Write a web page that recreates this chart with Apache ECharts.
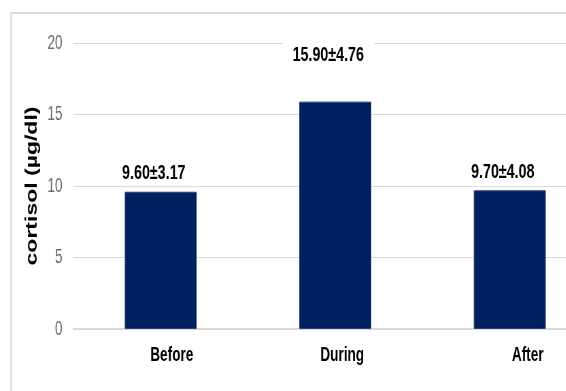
<!DOCTYPE html>
<html>
<head>
<meta charset="utf-8">
<script src="https://cdn.jsdelivr.net/npm/echarts@6/dist/echarts.min.js"></script>
<style>
  html, body { margin: 0; padding: 0; width: 566px; height: 391px; overflow: hidden; background: #fff; }
  /* chart is laid out wide, then condensed horizontally */
  #wrap { width: 900px; height: 391px; transform: scaleX(0.68); transform-origin: 0 0; }
</style>
</head>
<body>
<div id="wrap"></div>
<script>
// Cortisol level (mean ± SD) by phase
const phases = ['Before', 'During', 'After'];
const cortisolMean = [9.60, 15.90, 9.70];
const cortisolSD = [3.17, 4.76, 4.08];
const yTicks = { min: 0, max: 20, step: 5 };

const SX = 0.68;               // horizontal condensing factor of the wrapper
const px = v => v / SX;        // on-screen x distance -> layout units

const chart = echarts.init(document.getElementById('wrap'), null, { renderer: 'canvas' });

// extra horizontal shifts of category names / vertical lift of value labels (screen px)
const nameShift = [11, 7, 18];
const valueLabelLift = [0, 28, 0];

const categoryData = phases.map((p, i) => ({
  value: p,
  textStyle: { padding: [0, 0, 0, px(nameShift[i]) * 2] }
}));

const barData = cortisolMean.map((m, i) => ({
  value: m,
  label: { offset: [px(-7), -valueLabelLift[i]] }
}));

chart.setOption({
  backgroundColor: '#ffffff',
  animation: false,
  graphic: [{
    type: 'rect',
    shape: { x: px(11), y: 13, width: 2000, height: 1000 },
    style: { fill: 'none', stroke: '#d9d9d9', lineWidth: 2 },
    z: -1
  }],
  grid: { left: px(73.5), top: 43, width: px(174.5 * 3), bottom: 62, containLabel: false },
  xAxis: {
    type: 'category',
    data: categoryData,
    axisTick: { show: false },
    axisLine: { show: true, lineStyle: { color: '#d9d9d9', width: 2 } },
    axisLabel: {
      margin: 16,
      color: '#000',
      fontFamily: 'Liberation Sans',
      fontWeight: 'bold',
      fontSize: 20
    }
  },
  yAxis: {
    type: 'value',
    min: yTicks.min,
    max: yTicks.max,
    interval: yTicks.step,
    name: 'cortisol (µg/dl)',
    nameLocation: 'middle',
    nameRotate: 90,
    nameGap: px(23),
    nameTextStyle: {
      color: '#000',
      fontFamily: 'Liberation Sans',
      fontWeight: 'bold',
      fontSize: 23
    },
    axisLine: { show: false },
    axisTick: { show: false },
    splitLine: { lineStyle: { color: '#d9d9d9', width: 1 } },
    axisLabel: {
      margin: px(11),
      color: '#6b6b6b',
      fontFamily: 'Liberation Sans',
      fontSize: 20
    }
  },
  series: [{
    type: 'bar',
    data: barData,
    barWidth: px(72),
    itemStyle: { color: '#002060', borderColor: '#27457a', borderWidth: 1 },
    label: {
      show: true,
      position: 'top',
      distance: 6,
      formatter: p => cortisolMean[p.dataIndex].toFixed(2) + '±' + cortisolSD[p.dataIndex].toFixed(2),
      color: '#000',
      fontFamily: 'Liberation Sans',
      fontWeight: 'bold',
      fontSize: 21,
      backgroundColor: '#ffffff',
      padding: [2, px(10)]
    }
  }]
});
</script>
</body>
</html>
